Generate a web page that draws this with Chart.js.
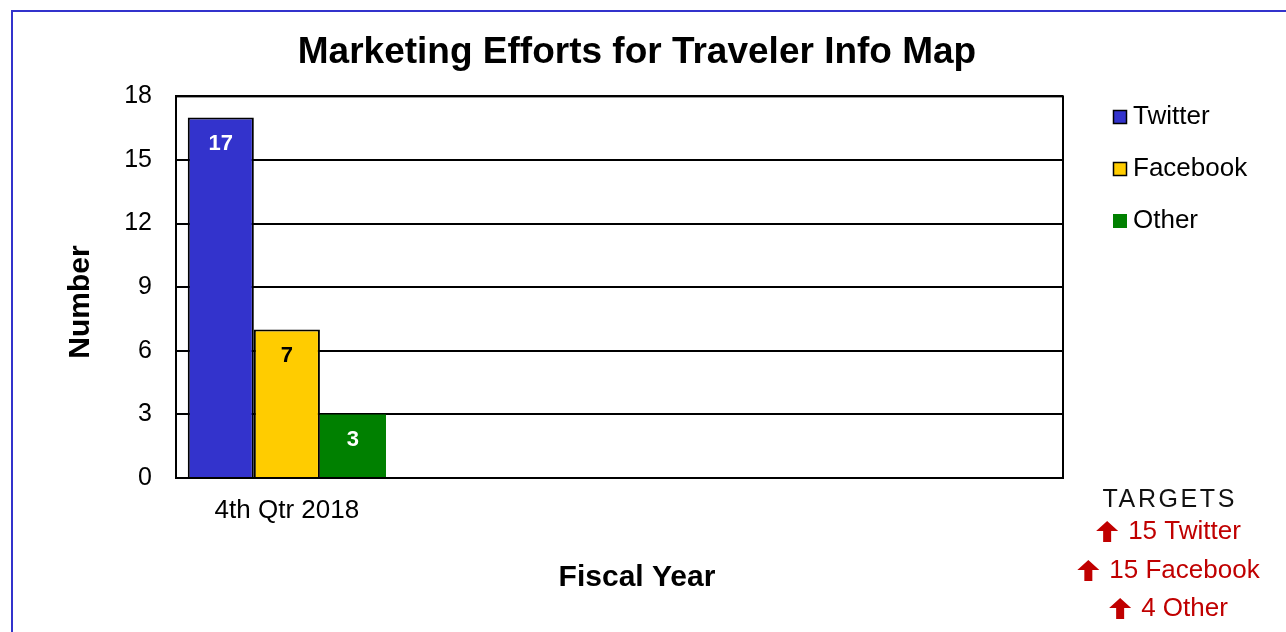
<!DOCTYPE html>
<html lang="en">
<head>
  <meta charset="UTF-8">
  <title>Marketing Efforts for Traveler Info Map</title>
  <script src="https://cdn.jsdelivr.net/npm/chart.js"></script>
  <style>
    body { margin: 0; background: #fff; }
    .chart-box { position: relative; width: 1286px; height: 632px; }
  </style>
</head>
<body>
  <div class="chart-box"><canvas id="barChart"></canvas></div>
  <script>
    // data
    const quarters = ['4th Qtr 2018', '', '', ''];
    const seriesNames = ['Twitter', 'Facebook', 'Other'];
    const twitter = [17];
    const facebook = [7];
    const other = [3];
    const yTicks = [0, 3, 6, 9, 12, 15, 18];
    const targetValues = [15, 15, 4];

    const seriesColors = ['#3333cc', '#ffcc00', '#008000'];
    const seriesBorders = [2, 2, 0];
    const labelColors = ['#ffffff', '#000000', '#ffffff'];
    const FONT = '"Liberation Sans", Arial, sans-serif';

    const seriesData = [twitter, facebook, other];

    const extras = {
      id: 'extras',
      afterDatasetsDraw(chart) {
        const ctx = chart.ctx;
        const a = chart.chartArea;
        ctx.save();
        // plot frame
        ctx.strokeStyle = '#000';
        ctx.lineWidth = 2;
        ctx.strokeRect(a.left, a.top, a.right - a.left, a.bottom - a.top);
        // value labels inside bars
        ctx.font = 'bold 22px ' + FONT;
        ctx.textAlign = 'center';
        ctx.textBaseline = 'middle';
        chart.data.datasets.forEach((ds, i) => {
          chart.getDatasetMeta(i).data.forEach((bar, j) => {
            if (ds.data[j] == null) return;
            ctx.fillStyle = labelColors[i];
            ctx.fillText(String(ds.data[j]), bar.x, bar.y + 26);
          });
        });
        ctx.restore();
      },
      afterDraw(chart) {
        const ctx = chart.ctx;
        ctx.save();
        // y axis title
        ctx.translate(81, 302);
        ctx.rotate(-Math.PI / 2);
        ctx.font = 'bold 30px ' + FONT;
        ctx.fillStyle = '#000';
        ctx.textAlign = 'center';
        ctx.textBaseline = 'middle';
        ctx.fillText('Number', 0, 0);
        ctx.restore();

        // legend
        ctx.save();
        ctx.font = '26px ' + FONT;
        ctx.textBaseline = 'middle';
        chart.data.datasets.forEach((ds, i) => {
          const y = 117 + i * 52;
          ctx.fillStyle = ds.backgroundColor;
          ctx.fillRect(1113, y - 7, 14, 14);
          if (ds.borderWidth) {
            ctx.strokeStyle = '#000';
            ctx.lineWidth = 1.5;
            ctx.strokeRect(1113.5, y - 6.5, 13, 13);
          }
          ctx.fillStyle = '#000';
          ctx.fillText(ds.label, 1133, y);
        });
        ctx.restore();

        // targets block
        ctx.save();
        const cx = 1168.5;
        ctx.textBaseline = 'middle';
        ctx.textAlign = 'center';
        ctx.fillStyle = '#111';
        ctx.font = '25px ' + FONT;
        ctx.letterSpacing = '2.6px';
        ctx.fillText('TARGETS', cx + 1.3, 500);
        ctx.letterSpacing = '0px';
        ctx.font = '26px ' + FONT;
        ctx.textAlign = 'left';
        const rowY = [532, 571, 609];
        targetValues.forEach((v, i) => {
          const txt = v + ' ' + seriesNames[i];
          const tw = ctx.measureText(txt).width;
          const aw = 22, gap = 10;
          const x0 = cx - (aw + gap + tw) / 2;
          const y = rowY[i];
          ctx.fillStyle = '#c00000';
          ctx.beginPath();
          ctx.moveTo(x0 + aw / 2, y - 11);
          ctx.lineTo(x0 + aw, y - 1);
          ctx.lineTo(x0 + aw / 2 + 4, y - 1);
          ctx.lineTo(x0 + aw / 2 + 4, y + 10);
          ctx.lineTo(x0 + aw / 2 - 4, y + 10);
          ctx.lineTo(x0 + aw / 2 - 4, y - 1);
          ctx.lineTo(x0, y - 1);
          ctx.closePath();
          ctx.fill();
          ctx.fillText(txt, x0 + aw + gap, y);
        });
        ctx.restore();

        // page border
        ctx.save();
        ctx.strokeStyle = '#3333cc';
        ctx.lineWidth = 2;
        ctx.strokeRect(12, 11, 2000, 2000);
        ctx.restore();
      }
    };

    new Chart(document.getElementById('barChart'), {
      type: 'bar',
      data: {
        labels: quarters,
        datasets: seriesNames.map((name, i) => ({
          label: name,
          data: seriesData[i],
          backgroundColor: seriesColors[i],
          borderColor: '#000',
          borderWidth: seriesBorders[i],
          borderSkipped: 'bottom',
          barPercentage: 1,
          categoryPercentage: 0.894
        }))
      },
      options: {
        responsive: true,
        maintainAspectRatio: false,
        animation: false,
        events: [],
        layout: { padding: { left: 0, right: 12, top: 0, bottom: 0 } },
        plugins: {
          legend: { display: false },
          tooltip: { enabled: false },
          title: {
            display: true,
            text: 'Marketing Efforts for Traveler Info Map',
            color: '#000',
            font: { family: FONT, size: 37, weight: 'bold' },
            padding: { top: 31, bottom: 21 }
          },
          subtitle: {
            display: true,
            position: 'bottom',
            text: 'Fiscal Year',
            color: '#000',
            font: { family: FONT, size: 30, weight: 'bold' },
            padding: { top: 10, bottom: 36 }
          }
        },
        scales: {
          x: {
            grid: { display: false, drawTicks: false },
            border: { display: true, color: '#000', width: 2 },
            ticks: { color: '#000', font: { family: FONT, size: 26 }, padding: 17, maxRotation: 0, autoSkip: false },
            afterFit(scale) { scale.height = 72; }
          },
          y: {
            min: yTicks[0],
            max: yTicks[yTicks.length - 1],
            ticks: { stepSize: yTicks[1] - yTicks[0], color: '#000', font: { family: FONT, size: 25 }, padding: 24 },
            grid: { color: '#000', lineWidth: 2, drawTicks: false },
            border: { display: true, color: '#000', width: 2 },
            afterFit(scale) { scale.width = 176; }
          },
          y2: {
            position: 'right',
            display: true,
            grid: { display: false, drawTicks: false },
            border: { display: false },
            ticks: { display: false },
            afterFit(scale) { scale.width = 211; }
          }
        }
      },
      plugins: [extras]
    });
  </script>
</body>
</html>
